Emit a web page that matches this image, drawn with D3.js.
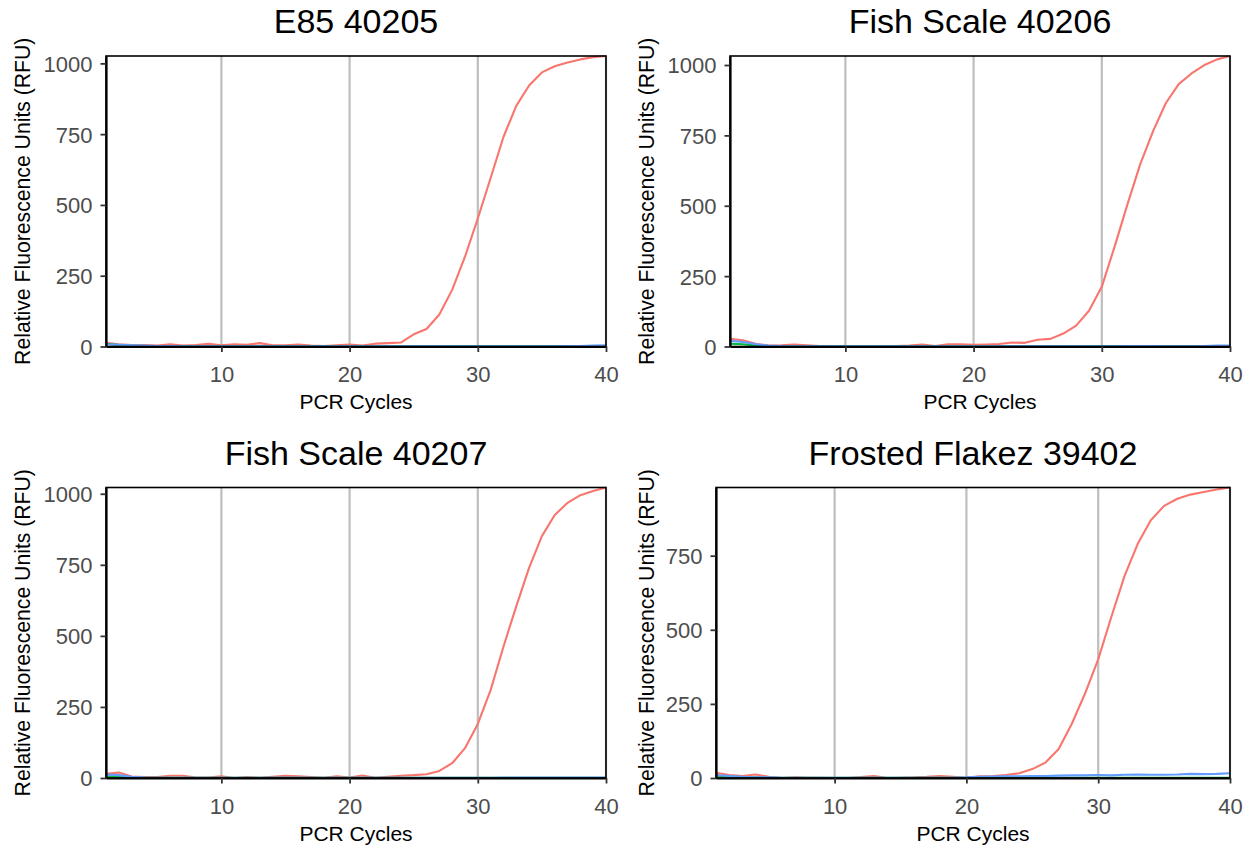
<!DOCTYPE html>
<html>
<head>
<meta charset="utf-8">
<script src="https://cdn.jsdelivr.net/npm/d3@7"></script>
<style>
  html, body { margin: 0; padding: 0; background: #fff; }
  svg { display: block; }
  text { font-family: "Liberation Sans", Arial, Helvetica, sans-serif; }
</style>
</head>
<body>
<script>
// ---------------- data ----------------
const cycles = [1,2,3,4,5,6,7,8,9,10,11,12,13,14,15,16,17,18,19,20,21,22,23,24,25,26,27,28,29,30,31,32,33,34,35,36,37,38,39,40];
const xTicks = [10, 20, 30, 40];

const titles = ["E85 40205", "Fish Scale 40206", "Fish Scale 40207", "Frosted Flakez 39402"];
const xTitle = "PCR Cycles";
const yTitle = "Relative Fluorescence Units (RFU)";
const seriesColors = ["#F8766D", "#00BA38", "#619CFF"];

// E85 40205
const e85Red   = [13,8,5,5,3,8,3,5,10,4,8,6,12,4,4,7,3,2,4,7,3,10,12,14,43,62,113,200,317,452,595,740,850,922,968,990,1003,1014,1022,1026];
const e85Green = [10,5,3,2,2,1,1,1,1,1,1,1,1,1,1,1,1,1,1,1,1,1,1,1,1,1,1,1,2,2,2,2,2,2,2,2,2,2,2,2];
const e85Blue  = [8,6,4,3,2,2,1,1,1,1,1,1,1,1,1,1,1,1,1,1,1,1,1,1,1,1,1,1,1,1,1,1,1,1,1,1,2,2,3,4];

// Fish Scale 40206
const fs06Red   = [27,22,10,3,4,7,4,2,2,1,2,1,2,2,3,7,2,8,8,6,7,9,14,13,24,27,46,74,127,212,355,505,648,765,865,932,970,1000,1020,1032];
const fs06Green = [10,8,4,2,1,1,1,1,1,1,1,1,1,1,1,1,1,1,1,1,1,1,1,1,1,1,1,1,1,2,2,1,1,1,1,1,1,1,1,1];
const fs06Blue  = [20,16,8,3,2,1,1,1,1,1,1,1,1,1,1,1,1,1,1,1,1,1,1,1,1,1,1,1,1,1,1,2,2,2,1,1,1,2,3,3];

// Fish Scale 40207
const fs07Red   = [15,19,5,3,3,8,8,2,2,6,0,3,1,4,8,6,3,1,6,2,9,1,4,8,10,13,25,52,105,190,309,462,604,739,851,925,968,995,1010,1022];
const fs07Green = [5,4,2,1,1,1,1,1,1,1,1,1,1,1,1,1,1,1,1,1,1,1,1,1,1,1,1,1,1,1,1,1,1,1,1,1,1,1,1,1];
const fs07Blue  = [12,10,4,2,1,1,1,1,1,1,1,1,1,1,1,1,1,1,1,1,1,1,1,1,1,1,1,1,1,1,1,2,2,2,2,2,2,2,2,2];

// Frosted Flakez 39402
const ffRed   = [18,10,7,12,4,0,2,1,1,0,0,3,7,0,1,2,4,7,4,1,6,7,10,16,30,52,98,183,285,400,544,682,790,870,918,942,956,965,973,980];
const ffGreen = [8,5,3,2,1,1,1,1,1,1,1,1,1,1,1,1,1,1,1,1,1,1,1,1,1,1,1,1,1,1,1,1,1,1,1,1,1,1,1,1];
const ffBlue  = [10,7,4,2,2,1,1,1,1,1,1,1,1,1,1,1,1,1,1,2,4,5,6,6,7,7,8,9,9,10,9,11,12,11,11,12,14,13,14,16];

const yTicksFull = [0, 250, 500, 750, 1000];

// ---------------- layout ----------------
const W = 1255, H = 848;
const panels = [
  { title: titles[0], series: [e85Red, e85Green, e85Blue],   x0: 106, x1: 606,  y0: 56,    y1: 346.5, cellX: 0 },
  { title: titles[1], series: [fs06Red, fs06Green, fs06Blue], x0: 730, x1: 1230, y0: 56,    y1: 346.5, cellX: 624 },
  { title: titles[2], series: [fs07Red, fs07Green, fs07Blue], x0: 106, x1: 606,  y0: 487.5, y1: 778,   cellX: 0 },
  { title: titles[3], series: [ffRed, ffGreen, ffBlue],       x0: 716, x1: 1230, y0: 487.5, y1: 778,   cellX: 624 }
];

const svg = d3.select("body").append("svg").attr("width", W).attr("height", H);

panels.forEach(p => {
  const allVals = p.series.flat();
  const yMax = d3.max(allVals);
  const x = d3.scaleLinear().domain(d3.extent(cycles)).range([p.x0, p.x1]);
  const y = d3.scaleLinear().domain([0, yMax]).range([p.y1, p.y0]);
  const g = svg.append("g");

  // vertical major grid lines
  g.selectAll("line.grid").data(xTicks).join("line")
    .attr("class", "grid")
    .attr("x1", d => x(d)).attr("x2", d => x(d))
    .attr("y1", p.y0).attr("y2", p.y1)
    .attr("stroke", "#BEBEBE").attr("stroke-width", 2.2);

  // series lines
  const line = d3.line().x((d, i) => x(cycles[i])).y(d => y(d));
  p.series.forEach((s, k) => {
    g.append("path").datum(s)
      .attr("d", line)
      .attr("fill", "none")
      .attr("stroke", seriesColors[k])
      .attr("stroke-width", 2.1)
      .attr("stroke-linejoin", "round");
  });

  // panel border
  g.append("rect")
    .attr("x", p.x0).attr("y", p.y0)
    .attr("width", p.x1 - p.x0).attr("height", p.y1 - p.y0)
    .attr("fill", "none").attr("stroke", "#000").attr("stroke-width", 1.6);

  // axes
  const xAxis = d3.axisBottom(x).tickValues(xTicks).tickFormat(d3.format("d"))
    .tickSize(5.5).tickSizeOuter(0).tickPadding(8);
  const yTicks = yTicksFull.filter(v => v <= yMax);
  const yAxis = d3.axisLeft(y).tickValues(yTicks).tickFormat(d3.format("d"))
    .tickSize(5.5).tickSizeOuter(0).tickPadding(8);

  const gx = g.append("g").attr("transform", `translate(0,${p.y1})`).call(xAxis);
  const gy = g.append("g").attr("transform", `translate(${p.x0},0)`).call(yAxis);
  [gx, gy].forEach(a => {
    a.select(".domain").attr("stroke", "#000").attr("stroke-width", 2.2);
    a.selectAll(".tick line").attr("stroke", "#333333").attr("stroke-width", 1.8);
    a.selectAll(".tick text").attr("fill", "#4D4D4D").style("font-size", "22px")
      .style("font-family", "'Liberation Sans', Arial, sans-serif");
  });
  gx.selectAll(".tick text").attr("dy", null).attr("y", 35.5);
  gy.selectAll(".tick text").attr("dy", "0.36em");

  // title
  g.append("text")
    .attr("x", (p.x0 + p.x1) / 2).attr("y", p.y0 - 23)
    .attr("text-anchor", "middle")
    .style("font-size", "34px").attr("fill", "#000")
    .text(p.title);

  // x axis title
  g.append("text")
    .attr("x", (p.x0 + p.x1) / 2).attr("y", p.y1 + 62.5)
    .attr("text-anchor", "middle")
    .style("font-size", "21px").attr("fill", "#000")
    .text(xTitle);

  // y axis title
  g.append("text")
    .attr("transform", `translate(${p.cellX + 30},${(p.y0 + p.y1) / 2}) rotate(-90)`)
    .attr("text-anchor", "middle")
    .style("font-size", "21.2px").attr("fill", "#000")
    .text(yTitle);
});
</script>
</body>
</html>
